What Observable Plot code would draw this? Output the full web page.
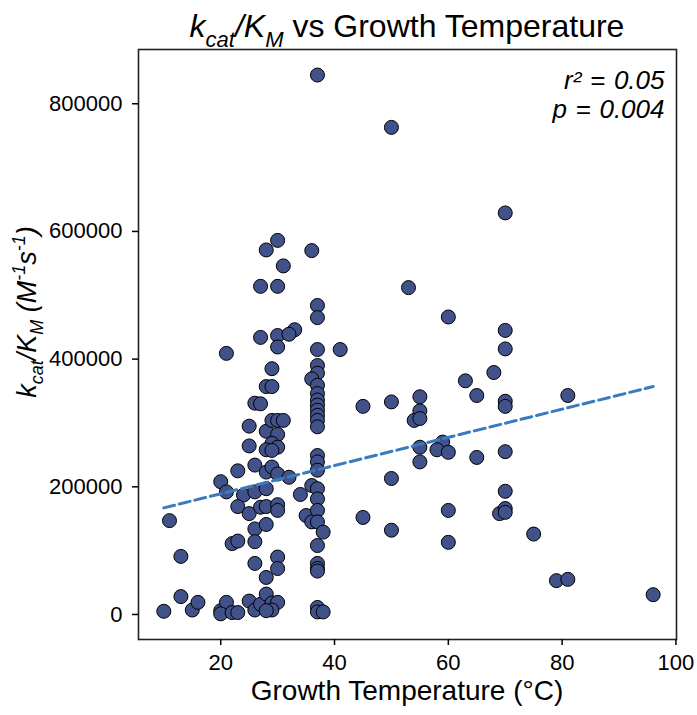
<!DOCTYPE html>
<html>
<head>
<meta charset="utf-8">
<script src="https://cdn.jsdelivr.net/npm/d3@7"></script>
<script src="https://cdn.jsdelivr.net/npm/@observablehq/plot@0.6"></script>
<style>
  html, body { margin: 0; padding: 0; background: white; }
</style>
</head>
<body>
<div id="chart"></div>
<script>
// Growth temperature (°C) of each enzyme's organism
const temps = [
  37, 30, 28, 36, 31, 27, 30, 37, 37, 27, 30, 33, 32, 30, 21, 37, 41, 29, 37, 37, 36, 37, 28, 29,
  26, 27, 37, 37, 37, 37, 37, 37, 37, 25, 28, 29, 30, 31, 30, 29, 30, 28, 29, 25, 26, 23,
  28, 29, 30, 32, 37, 37, 37, 20, 21, 24, 26, 28, 34, 36, 37, 37, 23, 25, 27, 28, 30, 30,
  35, 36, 37, 37, 38, 26, 28, 26, 22, 23, 37, 13, 11, 30, 30, 26, 28, 37, 37, 37, 13, 10,
  15, 16, 20, 21, 20, 22, 23, 25, 26, 27, 28, 29, 30, 29, 28, 37, 37, 38,
  50, 70, 53, 60, 70, 70, 68, 63, 65, 81, 70, 70, 45, 50, 55, 55, 54, 55, 55, 59, 58, 60,
  55, 65, 70, 50, 70, 45, 60, 69, 70, 70, 50, 60, 75, 79, 81, 96
];
// kcat/KM (M^-1 s^-1)
const kcatKm = [
  845000, 586000, 571000, 570000, 546000, 514000, 514000, 484000, 465000, 434000, 437000, 446000,
  439000, 419000, 409000, 415000, 415000, 385000, 390000, 378000, 369000, 359000, 357000, 357000,
  331000, 330000, 346000, 336000, 328000, 320000, 312000, 304000, 294000, 295000, 287000, 304000,
  304000, 304000, 282000, 268000, 262000, 258000, 257000, 264000, 234000, 225000,
  223000, 231000, 220000, 215000, 249000, 239000, 226000, 208000, 192000, 187000, 192000, 197000,
  188000, 202000, 197000, 181000, 169000, 158000, 168000, 169000, 172000, 163000,
  155000, 145000, 163000, 145000, 129000, 134000, 141000, 114000, 111000, 115000, 108000, 91000,
  147000, 90000, 72000, 80000, 58000, 80000, 72000, 68000, 28000, 5000,
  7000, 19000, 6000, 19000, 1000, 3000, 3000, 21000, 7000, 16000, 32000, 18000, 19000, 7000, 6000,
  11000, 4000, 4000,
  763000, 629000, 512000, 466000, 445000, 416000, 379000, 366000, 343000, 343000, 334000, 326000,
  326000, 333000, 341000, 319000, 304000, 307000, 262000, 270000, 258000, 254000,
  239000, 246000, 255000, 213000, 193000, 152000, 163000, 158000, 166000, 160000, 132000, 113000,
  126000, 53000, 55000, 31000
];
// Fitted regression line (ends at the data's temperature range)
const fitTemps = [10, 96];
const fitValues = [167000, 357000];
// Axis ticks
const xTicks = [20, 40, 60, 80, 100];
const yTicks = [0, 200000, 400000, 600000, 800000];
// Statistics annotation (two lines)
const statR2 = "r\u00b2\u2004=\u20040.05";
const statP = "p\u2004=\u20040.004";

const data = temps.map((t, i) => ({ t, k: kcatKm[i] }));
const fit = fitTemps.map((t, i) => ({ t, k: fitValues[i] }));

const FONT = "'Liberation Sans', Arial, Helvetica, sans-serif";

const plot = Plot.plot({
  width: 697,
  height: 715,
  marginLeft: 138,
  marginRight: 21,
  marginTop: 49,
  marginBottom: 76,
  style: { fontFamily: FONT, fontSize: "22px", color: "black", background: "white" },
  x: { domain: [5.55, 100.1], label: null },
  y: { domain: [-39200, 885000], label: null },
  marks: [
    Plot.dot(data, { x: "t", y: "k", r: 7, fill: "#41528a", stroke: "black", strokeWidth: 1 }),
    Plot.line(fit, { x: "t", y: "k", stroke: "#3a7bbf", strokeWidth: 3, strokeDasharray: "11,5" }),
    Plot.frame({ stroke: "#222", strokeWidth: 1.6 }),
    Plot.axisX({ ticks: xTicks, tickFormat: d => String(d), tickSize: 6, tickPadding: 9, strokeWidth: 1.5, label: null, fontSize: 22 }),
    Plot.axisY({ ticks: yTicks, tickFormat: d => String(d), tickSize: 6, tickPadding: 10, strokeWidth: 1.5, label: null, fontSize: 22 }),
    Plot.text([statR2], {
      frameAnchor: "top-right", textAnchor: "end", lineAnchor: "top",
      dx: -12, dy: 21, fontSize: 26, fontStyle: "italic", fill: "black"
    }),
    Plot.text([statP], {
      frameAnchor: "top-right", textAnchor: "end", lineAnchor: "top",
      dx: -12, dy: 50, fontSize: 26, fontStyle: "italic", fill: "black"
    })
  ]
});

document.getElementById("chart").appendChild(plot);

const svg = d3.select(plot);

// Title: k_cat/K_M vs Growth Temperature
const title = svg.append("text")
  .attr("x", 407).attr("y", 37)
  .attr("text-anchor", "middle")
  .style("font-family", FONT).style("font-size", "32px").attr("fill", "black");
title.append("tspan").attr("font-style", "italic").text("k");
title.append("tspan").attr("font-style", "italic").style("font-size", "22px").attr("dy", 10).text("cat");
title.append("tspan").attr("font-style", "italic").attr("dy", -10).text("/K");
title.append("tspan").attr("font-style", "italic").style("font-size", "22px").attr("dy", 10).text("M");
title.append("tspan").attr("dy", -10).text("\u00a0vs Growth Temperature");

// X axis label
svg.append("text")
  .attr("x", 407).attr("y", 700)
  .attr("text-anchor", "middle")
  .style("font-family", FONT).style("font-size", "28px").attr("fill", "black")
  .text("Growth Temperature (\u00b0C)");

// Y axis label: k_cat/K_M (M^-1 s^-1)
const ylab = svg.append("text")
  .attr("transform", "translate(36,312) rotate(-90)")
  .attr("text-anchor", "middle")
  .style("font-family", FONT).style("font-size", "27px").attr("fill", "black")
  .attr("font-style", "italic");
ylab.append("tspan").text("k");
ylab.append("tspan").style("font-size", "18px").attr("dy", 7).text("cat");
ylab.append("tspan").attr("dy", -7).text("/K");
ylab.append("tspan").style("font-size", "18px").attr("dy", 7).text("M");
ylab.append("tspan").attr("dy", -7).text("\u00a0(M");
ylab.append("tspan").style("font-size", "18px").attr("dy", -11).text("-1");
ylab.append("tspan").attr("dy", 11).text("s");
ylab.append("tspan").style("font-size", "18px").attr("dy", -11).text("-1");
ylab.append("tspan").attr("dy", 11).text(")");
</script>
</body>
</html>
